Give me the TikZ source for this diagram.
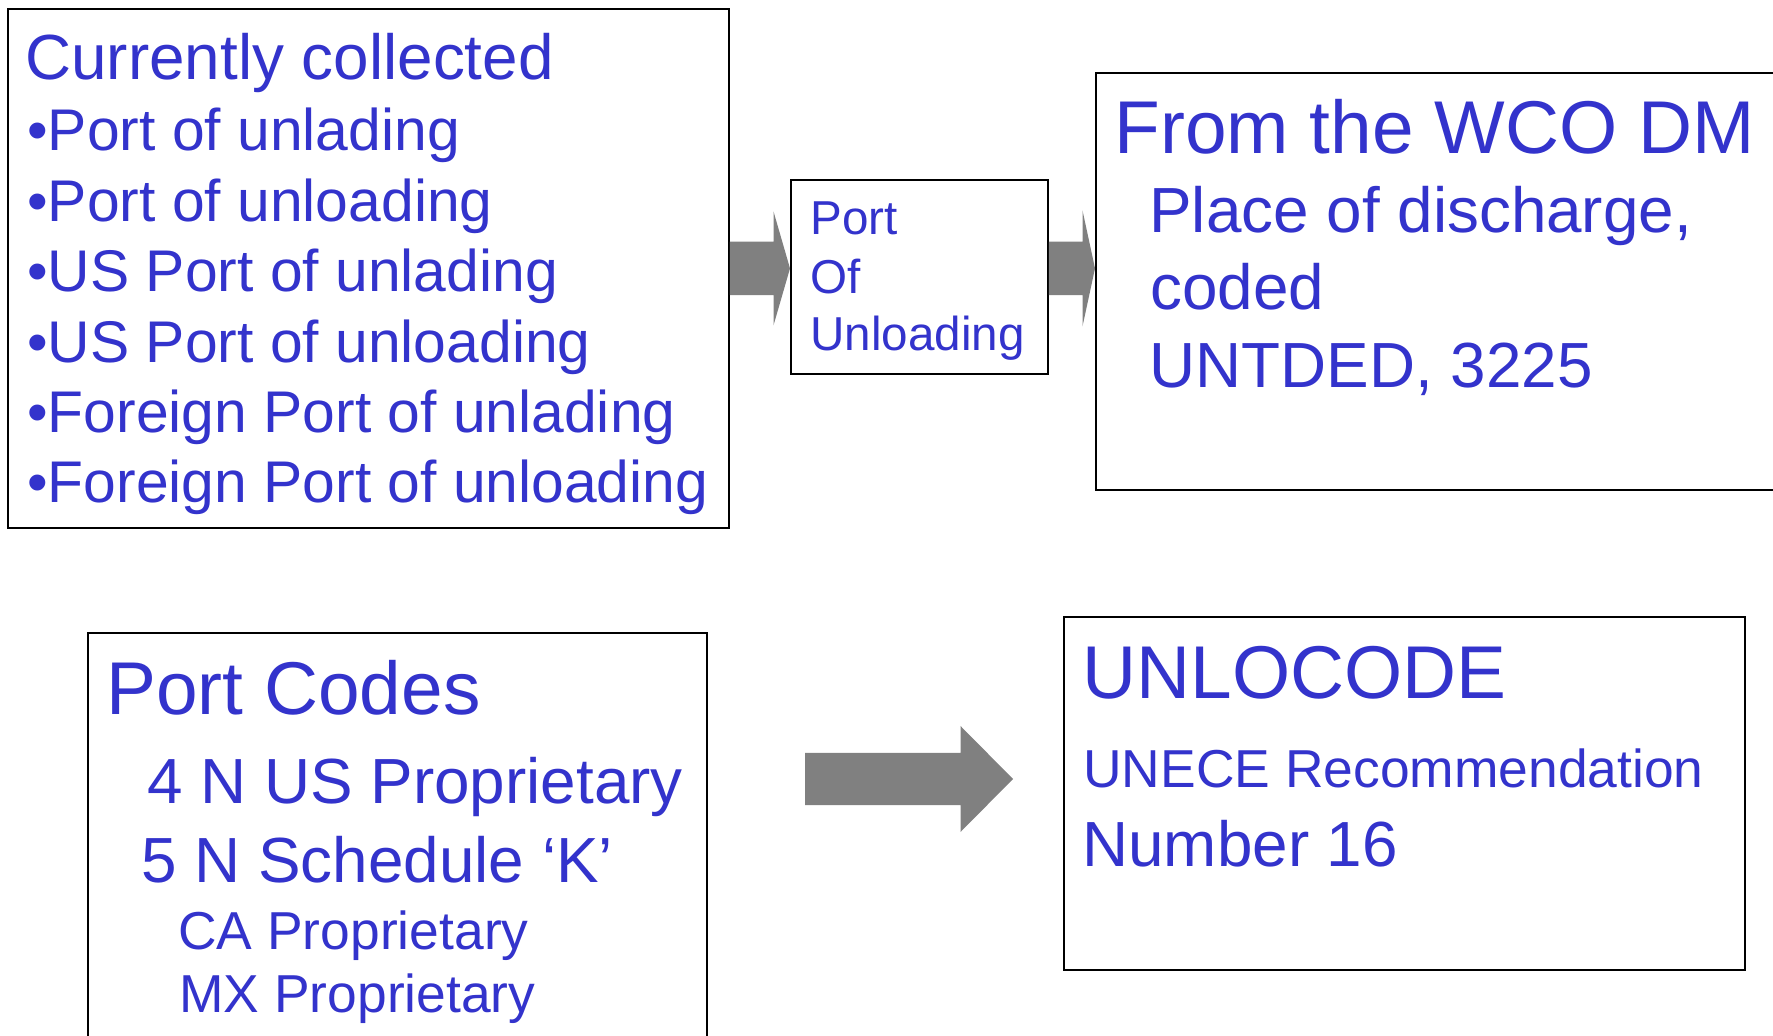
\documentclass[tikz,border=0pt]{standalone}
\usepackage{fontspec}
\setmainfont{Liberation Sans}
\usetikzlibrary{calc}
\definecolor{tblue}{RGB}{51,51,204}
\definecolor{agray}{RGB}{128,128,128}
% block arrow: start, tip, shaft half-height, head half-height, head length
\newcommand\blockarr[5]{%
  \fill[blockarrow] ($(#1)+(0,#3)$) -- ($(#2)+(-#5,#3)$) -- ($(#2)+(-#5,#4)$) -- (#2)
    -- ($(#2)+(-#5,-#4)$) -- ($(#2)+(-#5,-#3)$) -- ($(#1)+(0,-#3)$) -- cycle;}
\begin{document}
\begin{tikzpicture}[x=0.5pt,y=-0.5pt,
  box/.style={draw=black, line width=0.9pt, fill=none, inner sep=0pt, anchor=north west},
  txt/.style={inner sep=0pt, anchor=base west, text=tblue},
  blockarrow/.style={fill=agray},
  fA/.style={font=\fontsize{37.4pt}{44pt}\selectfont},
  fB/.style={font=\fontsize{31.9pt}{38pt}\selectfont},
  fC/.style={font=\fontsize{29.4pt}{35pt}\selectfont},
  fD/.style={font=\fontsize{26.7pt}{32pt}\selectfont},
  fE/.style={font=\fontsize{23.8pt}{28pt}\selectfont}]
\useasboundingbox (0,0) rectangle (1773,1036);
\fill[white] (0,0) rectangle (1773,1036);
\begin{scope}
\clip (0,0) rectangle (1773,1036);
% boxes
\node[box, minimum width=360.5pt, minimum height=259.5pt] (b1) at (7,8) {};
\node[box, minimum width=128.5pt, minimum height=97pt] (sm) at (790,179) {};
\node[box, minimum width=352.5pt, minimum height=208.5pt] (b3) at (1095,72) {};
\node[box, minimum width=309.5pt, minimum height=224pt] (b4) at (87,632) {};
\node[box, minimum width=340.5pt, minimum height=176.5pt] (b5) at (1063,616) {};
% arrows
\coordinate (a1t) at (b1.east -| sm.west);
\coordinate (a2s) at (b1.east -| sm.east);
\coordinate (a2t) at (b1.east -| b3.west);
\coordinate (a3s) at (805,779);
\coordinate (a3t) at (1013,779);
\blockarr{b1.east}{a1t}{26.7}{57}{16.5}
\blockarr{a2s}{a2t}{26.7}{58}{12.5}
\blockarr{a3s}{a3t}{26.2}{53}{52.5}
% box 1 text
\node[txt, fB] (c0) at (25,80) {Currently collected};
\node[txt, fC] (c1) at (27,150.5) {•Port of unlading};
\node[txt, fC] (c2) at (27,221.4) {•Port of unloading};
\node[txt, fC] (c3) at (27,292) {•US Port of unlading};
\node[txt, fC] (c4) at (27,362.3) {•US Port of unloading};
\node[txt, fC] (c5) at (27,432.2) {•Foreign Port of unlading};
\node[txt, fC] (c6) at (27,502.8) {•Foreign Port of unloading};
% small box text
\node[txt, fE] (s1) at (810,235) {Port};
\node[txt, fE] (s2) at (810,293.3) {Of};
\node[txt, fE] (s3) at (810,351) {Unloading};
% box 3 text
\node[txt, fA] (w1) at (1114,154) {From the WCO DM};
\node[txt, fB] (w2) at (1149,233) {Place of discharge,};
\node[txt, fB] (w3) at (1150,310) {coded};
\node[txt, fB] (w4) at (1149,388) {UNTDED, 3225};
% port codes text
\node[txt, fA] (p1) at (106,714.3) {Port Codes};
\node[txt, fB] (p2) at (147,804) {4 N US Proprietary};
\node[txt, fB] (p3) at (141,882.7) {5 N Schedule ‘K’};
\node[txt, fD] (p4) at (178,949.3) {CA Proprietary};
\node[txt, fD] (p5) at (179,1012.7) {MX Proprietary};
% unlocode text
\node[txt, fA] (u1) at (1082,698.3) {UNLOCODE};
\node[txt, fD] (u2) at (1083,787.7) {UNECE Recommendation};
\node[txt, fB] (u3) at (1082,866.7) {Number 16};
\end{scope}
\end{tikzpicture}
\end{document}
